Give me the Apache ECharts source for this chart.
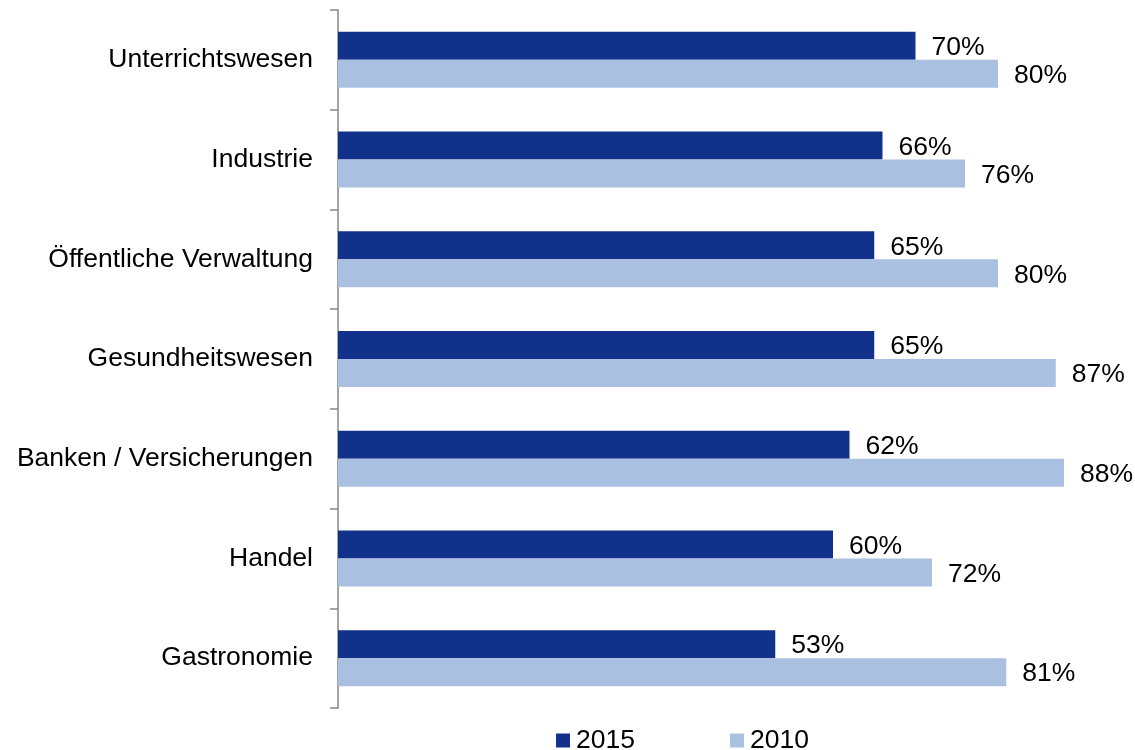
<!DOCTYPE html>
<html>
<head>
<meta charset="utf-8">
<script src="https://cdn.jsdelivr.net/npm/echarts@6/dist/echarts.min.js"></script>
<style>
  html, body { margin: 0; padding: 0; background: #fff; }
  #chart { width: 1135px; height: 750px; }
</style>
</head>
<body>
<div id="chart"></div>
<script>
const categories = ['Unterrichtswesen', 'Industrie', 'Öffentliche Verwaltung', 'Gesundheitswesen', 'Banken / Versicherungen', 'Handel', 'Gastronomie'];
const values2015 = [70, 66, 65, 65, 62, 60, 53];
const values2010 = [80, 76, 80, 87, 88, 72, 81];
const seriesNames = ['2015', '2010'];
const colors = ['#12318A', '#AAC0E1'];

const font = '"Liberation Sans", Arial, sans-serif';
const chart = echarts.init(document.getElementById('chart'));

const labelOpt = {
  show: true,
  position: 'right',
  distance: 16,
  formatter: '{c}%',
  color: '#000',
  fontSize: 26.5,
  fontFamily: font,
  offset: [0, 2]
};

chart.setOption({
  animation: false,
  textStyle: { fontFamily: font },
  grid: { left: 338, top: 10, bottom: 42, width: 742.5, containLabel: false },
  xAxis: {
    type: 'value',
    min: 0,
    max: 90,
    show: false
  },
  yAxis: {
    type: 'category',
    data: categories,
    inverse: true,
    axisLine: { show: true, lineStyle: { color: '#868686', width: 1.5 } },
    axisTick: { show: true, length: 8, lineStyle: { color: '#868686', width: 1.5 } },
    axisLabel: { color: '#000', fontSize: 26.5, fontFamily: font, margin: 25 },
    splitLine: { show: false }
  },
  legend: {
    data: seriesNames,
    left: 551,
    top: 722,
    icon: 'rect',
    itemWidth: 14,
    itemHeight: 14,
    itemGap: 95,
    textStyle: { color: '#000', fontSize: 26.5, fontFamily: font, padding: [0, 0, 0, 1] }
  },
  series: [
    {
      name: seriesNames[0],
      type: 'bar',
      data: values2015,
      barWidth: 28,
      barGap: '0%',
      itemStyle: { color: colors[0] },
      label: labelOpt
    },
    {
      name: seriesNames[1],
      type: 'bar',
      data: values2010,
      barWidth: 28,
      barGap: '0%',
      itemStyle: { color: colors[1] },
      label: labelOpt
    }
  ]
});
</script>
</body>
</html>
